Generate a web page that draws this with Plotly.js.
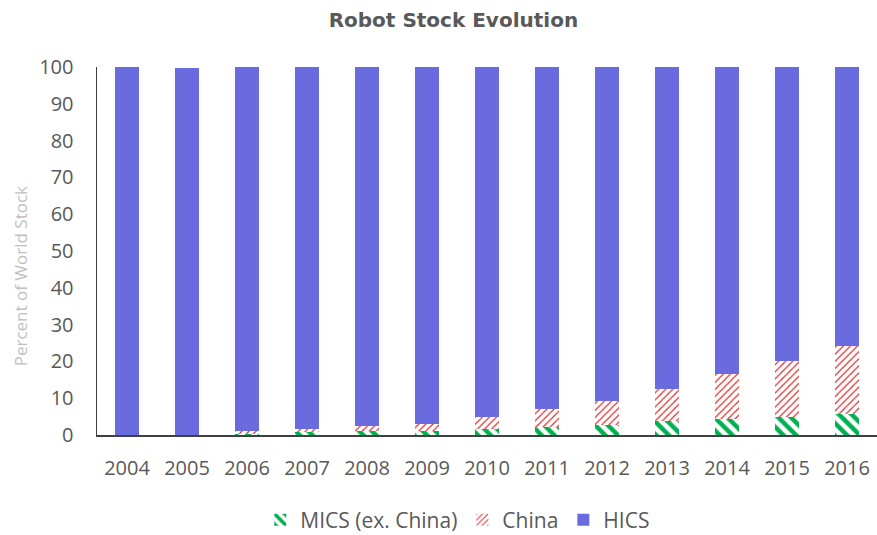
<!DOCTYPE html>
<html>
<head>
<meta charset="utf-8">
<script src="https://cdn.plot.ly/plotly-3.0.1.min.js"></script>
<style>html,body{margin:0;padding:0;background:#fff;}#chart{width:877px;height:535px;}</style>
</head>
<body>
<div id="chart"></div>
<script>
const years = ["2004","2005","2006","2007","2008","2009","2010","2011","2012","2013","2014","2015","2016"];
const mics = [0, 0, 0.3, 0.7, 1.0, 1.2, 1.5, 2.2, 2.8, 3.9, 4.4, 5.0, 5.8];
const china = [0, 0, 0.7, 0.9, 1.5, 1.8, 3.4, 4.9, 6.4, 8.7, 12.2, 15.1, 18.3];
const hics = [100, 99.7, 99.0, 98.4, 97.5, 97.0, 95.1, 92.9, 90.8, 87.4, 83.4, 79.9, 75.9];
const yTicks = [0,10,20,30,40,50,60,70,80,90,100];

const font = "'Open Sans', 'Noto Sans', sans-serif";
const traces = [
  {type:'bar', name:'MICS (ex. China)', x:years, y:mics,
   marker:{color:'#ffffff', pattern:{shape:'\\', fgcolor:'#00B050', bgcolor:'#ffffff', size:9, solidity:0.5}}},
  {type:'bar', name:'China', x:years, y:china,
   marker:{color:'#ffffff', pattern:{shape:'/', fgcolor:'#E03030', bgcolor:'#ffffff', size:5, solidity:0.25}}},
  {type:'bar', name:'HICS', x:years, y:hics, marker:{color:'#6B6BE0'}}
];
const layout = {
  width:877, height:535,
  margin:{l:97, r:0, t:67, b:100},
  barmode:'stack', bargap:0.6,
  paper_bgcolor:'#fff', plot_bgcolor:'#fff',
  font:{family:font, color:'#595959', size:20},
  title:{text:'<b>Robot Stock Evolution</b>', x:0.517, xref:'container', y:0.962, yref:'container', yanchor:'middle',
         font:{family:"'DejaVu Sans', sans-serif", size:20, color:'#595959'}},
  xaxis:{type:'category', showline:true, linecolor:'#404040', linewidth:2, ticks:'', showgrid:false, automargin:false,
         tickfont:{family:font, size:20, color:'#595959'}, ticklabelstandoff:14},
  yaxis:{range:[0,100], tickvals:yTicks, showline:true, linecolor:'#404040', linewidth:1.5, ticks:'', showgrid:false, zeroline:false, automargin:false,
         tickfont:{family:font, size:20, color:'#595959'}, ticklabelstandoff:18},
  annotations:[{text:'Percent of World Stock', textangle:-90, xref:'paper', yref:'paper',
                x:-0.098, xanchor:'center', y:0.43, yanchor:'middle', showarrow:false,
                font:{family:font, size:17, color:'#BFBFBF'}}],
  legend:{orientation:'h', x:0.522, xref:'container', xanchor:'center', y:0.028, yref:'container', yanchor:'middle',
          font:{family:font, size:21, color:'#595959'}, traceorder:'normal', itemwidth:30},
  showlegend:true
};
Plotly.newPlot('chart', traces, layout, {displayModeBar:false, staticPlot:true});
</script>
</body>
</html>
